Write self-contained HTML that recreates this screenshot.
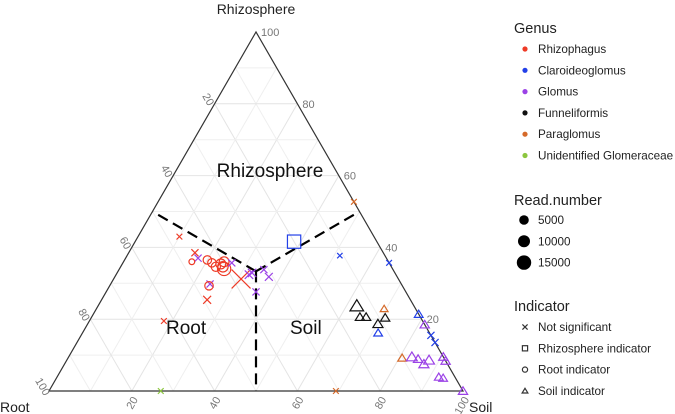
<!DOCTYPE html>
<html><head><meta charset="utf-8">
<style>
html,body{margin:0;padding:0;background:#fff;}
svg{display:block;font-family:"Liberation Sans",sans-serif;}
</style></head>
<body>
<svg id="chart" width="675" height="414" viewBox="0 0 675 414" xmlns="http://www.w3.org/2000/svg">
<g id="grid"></g>
<g id="divs"></g>
<polygon points="49,391 463,391 256,32" fill="none" stroke="#333" stroke-width="1.2"/>
<g id="ticks"></g>
<text x="256" y="14" font-size="14" text-anchor="middle" fill="#222">Rhizosphere</text>
<text x="0" y="412" font-size="14" fill="#222">Root</text>
<text x="469" y="412" font-size="14" fill="#222">Soil</text>
<text x="270" y="177" font-size="19" text-anchor="middle" fill="#111">Rhizosphere</text>
<text x="166" y="334" font-size="19" fill="#111">Root</text>
<text x="290" y="334" font-size="19" fill="#111">Soil</text>
<g id="points"></g>
<g id="legend">
<text x="514" y="33" font-size="14.5" fill="#222">Genus</text>
<text x="514" y="205" font-size="14.5" fill="#222">Read.number</text>
<text x="514" y="311" font-size="14.5" fill="#222">Indicator</text>
</g>
</svg>
<script>
const rhizo = [43,38.5,37,36,36.5,35.7,34.6,35.4,36,34.6,34,35.7,31.2,32.4,32.9,27.6,33.8,31.8,25.4,29.8,29.3,19.5,41.6,52.7,37.7,35.7,23.7,20.6,20.6,18.7,20.4,22.9,16.2,21.4,18.5,15.5,13.5,9.2,9.5,8.9,7.5,8.6,9.5,8.4,3.9,3.6,0,0,0];
const soil = [10,16,17.5,16.5,20,21.5,23,23.8,24.3,24.7,25.3,26.3,30.8,32.1,32.6,36.2,35,37.2,25.5,24,24,18,38.4,47.3,51.4,64.3,62.5,64.8,66.3,70.1,71,69.5,71.4,78.6,81.5,84.5,86.5,80.7,82.9,84.7,86.8,87.5,90.5,91.6,92.2,93.4,100,69.3,27];
const genus = ['Rh','Rh','Gl','Rh','Rh','Rh','Rh','Rh','Rh','Rh','Rh','Gl','Rh','Gl','Gl','Gl','Gl','Gl','Rh','Gl','Rh','Rh','Cl','Pa','Cl','Cl','Fu','Fu','Fu','Fu','Fu','Pa','Cl','Cl','Gl','Cl','Cl','Pa','Gl','Gl','Gl','Gl','Gl','Gl','Gl','Gl','Gl','Pa','Un'];
const indicator = ['x','x','x','o','o','o','o','o','o','o','o','x','x','x','x','x','x','x','x','x','o','x','s','x','x','x','t','t','t','t','t','t','t','t','t','x','x','t','t','t','t','t','t','t','t','t','t','x','x'];
const reads = [300,800,800,300,1500,1500,2000,2500,2500,3000,6000,800,15000,1500,1500,800,800,1200,1200,800,1500,300,6000,300,200,300,5000,1500,1500,2000,1500,800,1200,1200,1500,800,800,1200,2500,1500,2000,2500,1500,1500,1200,1200,1500,300,300];
const genusNames = ['Rhizophagus','Claroideoglomus','Glomus','Funneliformis','Paraglomus','Unidentified Glomeraceae'];
const genusKeys = ['Rh','Cl','Gl','Fu','Pa','Un'];
const genusColors = {Rh:'#ee3a26',Cl:'#2340e8',Gl:'#9b42e6',Fu:'#111111',Pa:'#d56a2a',Un:'#8cc63f'};
const sizeBreaks = [5000,10000,15000];
const indicatorNames = ['Not significant','Rhizosphere indicator','Root indicator','Soil indicator'];
const indicatorKeys = ['x','s','o','t'];
const tickValues = [20,40,60,80,100];

const NS='http://www.w3.org/2000/svg';
const L=[49,391],R=[463,391],T=[256,32];
function px(r,s){return [L[0]+s/100*(R[0]-L[0])+r/100*(T[0]-L[0]), L[1]-r/100*(L[1]-T[1])];}
function mk(tag,attrs,parent){const e=document.createElementNS(NS,tag);for(const k in attrs)e.setAttribute(k,attrs[k]);parent.appendChild(e);return e;}
function half(n){return 1.8+Math.sqrt(n)/16;}

const grid=document.getElementById('grid');
for(let v=10;v<100;v+=10){
  const c=v%20===0?'#e4e4e4':'#efefef';
  let a=px(v,0),b=px(v,100-v);
  let l=mk('line',{x1:a[0],y1:a[1],x2:b[0],y2:b[1],stroke:c,'stroke-width':1},grid);
  
  
  a=px(0,v);b=px(100-v,v);
  l=mk('line',{x1:a[0],y1:a[1],x2:b[0],y2:b[1],stroke:c,'stroke-width':1},grid);
  
  
  a=px(0,100-v);b=px(100-v,0);
  l=mk('line',{x1:a[0],y1:a[1],x2:b[0],y2:b[1],stroke:c,'stroke-width':1},grid);
  
  
}

const divs=document.getElementById('divs');
const ctr=px(100/3,100/3);
[[50,0],[50,50],[0,50]].forEach(p=>{
  const e=px(p[0],p[1]);
  const l=mk('line',{x1:ctr[0],y1:ctr[1],x2:e[0],y2:e[1],stroke:'#000','stroke-width':2.2,'stroke-dasharray':'11,6'},divs);
  
  
});

const ticks=document.getElementById('ticks');
tickValues.forEach(v=>{
  let p=px(0,v);
  let t=mk('text',{x:0,y:0,transform:`translate(${p[0]+4},${p[1]+7}) rotate(-60)`,'font-size':11,fill:'#777','text-anchor':'end','dominant-baseline':'middle'},ticks);
  t.textContent=v;
  
  
  p=px(100-v,0);
  t=mk('text',{x:0,y:0,transform:`translate(${p[0]-7},${p[1]-4}) rotate(60)`,'font-size':11,fill:'#777','text-anchor':'middle','dominant-baseline':'middle'},ticks);
  t.textContent=v;
  
  
  p=px(v,100-v);
  t=mk('text',{x:p[0]+5,y:p[1]+4,'font-size':11,fill:'#777'},ticks);
  t.textContent=v;
  
  
});

function drawMarker(parent,shape,cx,cy,h,color){
  let e;
  if(shape==='x'){
    e=mk('path',{d:`M${cx-h},${cy-h}L${cx+h},${cy+h}M${cx-h},${cy+h}L${cx+h},${cy-h}`,stroke:color,'stroke-width':1.2,fill:'none'},parent);
  }else if(shape==='o'){
    e=mk('circle',{cx:cx,cy:cy,r:h,stroke:color,'stroke-width':1.2,fill:'none'},parent);
  }else if(shape==='s'){
    e=mk('rect',{x:cx-h,y:cy-h,width:2*h,height:2*h,stroke:color,'stroke-width':1.2,fill:'none'},parent);
  }else{
    e=mk('polygon',{points:`${cx},${cy-h} ${cx+h*1.1},${cy+h*0.8} ${cx-h*1.1},${cy+h*0.8}`,stroke:color,'stroke-width':1.2,fill:'none'},parent);
  }
  return e;
}

const pts=document.getElementById('points');
for(let i=0;i<rhizo.length;i++){
  const p=px(rhizo[i],soil[i]);
  const e=drawMarker(pts,indicator[i],p[0],p[1],half(reads[i]),genusColors[genus[i]]);
  
  
}

const leg=document.getElementById('legend');
genusNames.forEach((n,i)=>{
  const y=49+i*21.3;
  const c=mk('circle',{cx:525,cy:y,r:2.6,fill:genusColors[genusKeys[i]]},leg);
  
  
  const t=mk('text',{x:538,y:y+4,'font-size':11.7,fill:'#222'},leg);
  t.textContent=n;
  
  
});
sizeBreaks.forEach((n,i)=>{
  const y=220+i*21.3;
  const c=mk('circle',{cx:524,cy:y,r:4.8+i*1.2,fill:'#000'},leg);
  
  
  const t=mk('text',{x:538,y:y+4,'font-size':11.7,fill:'#222'},leg);
  t.textContent=n;
  
  
});
indicatorNames.forEach((n,i)=>{
  const y=327+i*21.3;
  const e=drawMarker(leg,indicatorKeys[i],525,y,2.6,'#333');
  
  
  const t=mk('text',{x:538,y:y+4,'font-size':11.7,fill:'#222'},leg);
  t.textContent=n;
  
  
});
</script>
</body></html>
